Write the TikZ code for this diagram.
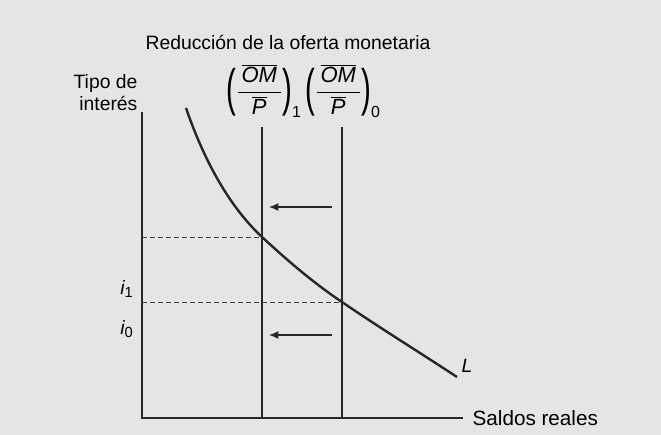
\documentclass[tikz,border=0pt]{standalone}
\usepackage{fontspec}
\setmainfont{Liberation Sans}
\usetikzlibrary{positioning, arrows.meta}

\newcommand{\bigparen}[1]{\vcenter{\hbox{\scalebox{1}[1.75]{\fontsize{22}{22}\selectfont #1}}}}
\newcommand{\omp}[1]{\fontsize{16.5}{18}\selectfont$\displaystyle\bigparen{(}\frac{\,\overline{\mbox{\itshape OM}}\,}{\overline{\mbox{\itshape P}}}\bigparen{)}_{\mbox{\fontsize{12}{12}\selectfont #1}}$}
\newcommand{\rate}[1]{$\mbox{\itshape i}_{\mbox{\fontsize{11}{11}\selectfont #1}}$}

\begin{document}
\begin{tikzpicture}[x=0.75pt,y=-0.75pt,font=\fontsize{14.5}{16}\selectfont,
        axis/.style={draw=black!85, line width=1pt},
        supply/.style={draw=black!85, line width=2pt},
        guide/.style={draw=black!75, dash pattern=on 3.5pt off 2.5pt, line width=0.7pt},
        shiftarrow/.style={draw=black!85, line width=0.9pt, -{Latex[length=7pt,width=6pt]}}]
        \fill[black!10] (0,0) rectangle (661,435);
        \useasboundingbox (0,0) rectangle (661,435);

        % axes
        \coordinate (origin) at (142,418);
        \coordinate (ytop) at (142,112);
        \coordinate (xend) at (463,418);
        \draw[axis] (ytop) -- (origin) -- (xend);
        \node[anchor=west, font=\fontsize{15.5}{17}\selectfont] (xlab) at (468,418) {Saldos reales};
        \node[anchor=south east, align=right, inner sep=1pt] (ylab) at (139,112) {Tipo de\\interés};
        \node (title) at (288,42) {Reducción de la oferta monetaria};

        % money supply lines
        \coordinate (s1top) at (262,127);
        \coordinate (s1bot) at (262,418);
        \coordinate (s0top) at (342,127);
        \coordinate (s0bot) at (342,418);
        \draw[supply] (s1top) -- (s1bot);
        \draw[supply] (s0top) -- (s0bot);
        \node[inner sep=0pt] (lab1) at (264,91) {\omp{1}};
        \node[inner sep=0pt] (lab0) at (343,91) {\omp{0}};

        % demand curve
        \coordinate (e1) at (262,237);
        \coordinate (e0) at (342,302);
        \draw[supply, line width=1.8pt] (186,108) .. controls (206,166) and (232,209) .. (e1)
            .. controls (289,262) and (315,284) .. (e0)
            .. controls (380,328) and (419,352) .. (457,377);
        \node[font=\fontsize{14.5}{16}\selectfont\itshape] (llab) at (467,366) {L};

        % interest levels
        \draw[guide] (142,237) -- (e1);
        \draw[guide] (142,302) -- (e0);
        \node (i1) at (127,289) {\rate{1}};
        \node (i0) at (127,329) {\rate{0}};

        % shift arrows
        \coordinate (a1s) at (332,207);
        \coordinate (a1e) at (269,207);
        \coordinate (a0s) at (332,335);
        \coordinate (a0e) at (269,335);
        \draw[shiftarrow] (a1s) -- (a1e);
        \draw[shiftarrow] (a0s) -- (a0e);
\end{tikzpicture}
\end{document}
